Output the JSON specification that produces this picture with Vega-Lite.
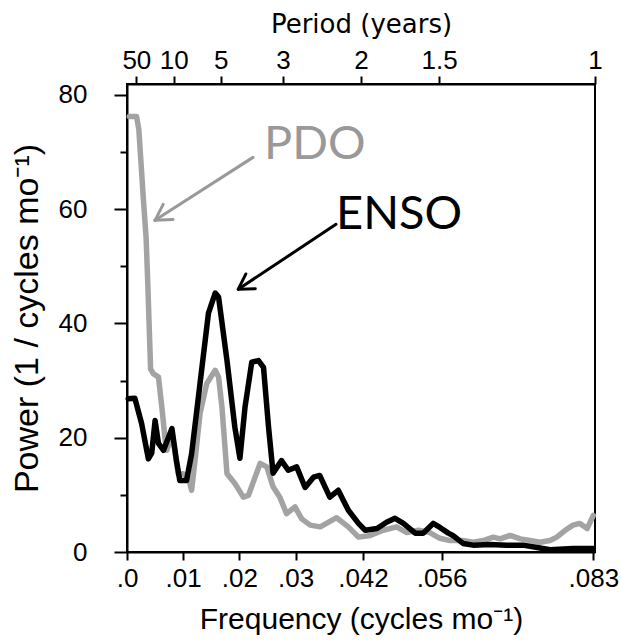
{
  "$schema": "https://vega.github.io/schema/vega-lite/v6.json",
  "width": 468,
  "height": 468,
  "autosize": {"type": "none"},
  "padding": {"left": 127, "top": 84, "right": 26, "bottom": 91},
  "background": "white",
  "config": {
    "view": {"stroke": "#000", "strokeWidth": 2},
    "axis": {
      "domainColor": "#000", "domainWidth": 2, "tickColor": "#000", "tickWidth": 2,
      "labelFont": "Liberation Sans", "labelColor": "#000", "titleFont": "Liberation Sans",
      "titleColor": "#000", "titleFontWeight": "normal", "grid": false,
      "labelFlush": false, "labelOverlap": false
    }
  },
  "datasets": {
    "spectra": [
      {"series": "PDO", "f": 0.0004, "p": 76.2}, {"series": "PDO", "f": 0.0017, "p": 76.2},
      {"series": "PDO", "f": 0.0021, "p": 74}, {"series": "PDO", "f": 0.0025, "p": 68},
      {"series": "PDO", "f": 0.0029, "p": 62}, {"series": "PDO", "f": 0.0034, "p": 55},
      {"series": "PDO", "f": 0.0037, "p": 47}, {"series": "PDO", "f": 0.0040, "p": 38},
      {"series": "PDO", "f": 0.0042, "p": 32}, {"series": "PDO", "f": 0.0047, "p": 31.2},
      {"series": "PDO", "f": 0.0056, "p": 30.6}, {"series": "PDO", "f": 0.0062, "p": 25.4},
      {"series": "PDO", "f": 0.0068, "p": 19.5}, {"series": "PDO", "f": 0.0071, "p": 17.8},
      {"series": "PDO", "f": 0.0080, "p": 20.7}, {"series": "PDO", "f": 0.0085, "p": 17.8},
      {"series": "PDO", "f": 0.0091, "p": 13.7}, {"series": "PDO", "f": 0.0100, "p": 13.7},
      {"series": "PDO", "f": 0.0109, "p": 13.1}, {"series": "PDO", "f": 0.0115, "p": 10.8},
      {"series": "PDO", "f": 0.0121, "p": 16.0}, {"series": "PDO", "f": 0.0130, "p": 24.2},
      {"series": "PDO", "f": 0.0142, "p": 29.5}, {"series": "PDO", "f": 0.0157, "p": 31.8},
      {"series": "PDO", "f": 0.0163, "p": 30.6}, {"series": "PDO", "f": 0.0169, "p": 25.4},
      {"series": "PDO", "f": 0.0178, "p": 13.7}, {"series": "PDO", "f": 0.0192, "p": 12.0},
      {"series": "PDO", "f": 0.0207, "p": 9.6}, {"series": "PDO", "f": 0.0216, "p": 9.9},
      {"series": "PDO", "f": 0.0228, "p": 13.1}, {"series": "PDO", "f": 0.0237, "p": 15.5},
      {"series": "PDO", "f": 0.0249, "p": 14.9}, {"series": "PDO", "f": 0.0260, "p": 11.4},
      {"series": "PDO", "f": 0.0272, "p": 9.6}, {"series": "PDO", "f": 0.0284, "p": 6.7},
      {"series": "PDO", "f": 0.0299, "p": 7.9}, {"series": "PDO", "f": 0.0311, "p": 5.8},
      {"series": "PDO", "f": 0.0326, "p": 4.7}, {"series": "PDO", "f": 0.0344, "p": 4.4},
      {"series": "PDO", "f": 0.0373, "p": 6.0}, {"series": "PDO", "f": 0.0394, "p": 4.4},
      {"series": "PDO", "f": 0.0412, "p": 2.6}, {"series": "PDO", "f": 0.0433, "p": 2.9},
      {"series": "PDO", "f": 0.0456, "p": 3.8}, {"series": "PDO", "f": 0.0480, "p": 4.4},
      {"series": "PDO", "f": 0.0498, "p": 3.4}, {"series": "PDO", "f": 0.0519, "p": 3.8},
      {"series": "PDO", "f": 0.0539, "p": 3.4}, {"series": "PDO", "f": 0.0557, "p": 2.4},
      {"series": "PDO", "f": 0.0575, "p": 2.0}, {"series": "PDO", "f": 0.0598, "p": 2.0},
      {"series": "PDO", "f": 0.0616, "p": 1.7}, {"series": "PDO", "f": 0.0634, "p": 2.0},
      {"series": "PDO", "f": 0.0652, "p": 2.6}, {"series": "PDO", "f": 0.0664, "p": 2.3},
      {"series": "PDO", "f": 0.0682, "p": 2.9}, {"series": "PDO", "f": 0.0700, "p": 2.3},
      {"series": "PDO", "f": 0.0717, "p": 2.0}, {"series": "PDO", "f": 0.0735, "p": 1.7},
      {"series": "PDO", "f": 0.0753, "p": 2.0}, {"series": "PDO", "f": 0.0765, "p": 2.6},
      {"series": "PDO", "f": 0.0780, "p": 3.8}, {"series": "PDO", "f": 0.0794, "p": 4.7},
      {"series": "PDO", "f": 0.0806, "p": 5.0}, {"series": "PDO", "f": 0.0819, "p": 4.1},
      {"series": "PDO", "f": 0.0830, "p": 6.4},
      {"series": "ENSO", "f": 0.0002, "p": 26.8}, {"series": "ENSO", "f": 0.0014, "p": 26.9},
      {"series": "ENSO", "f": 0.0026, "p": 22.5}, {"series": "ENSO", "f": 0.0038, "p": 16.3},
      {"series": "ENSO", "f": 0.0044, "p": 17.3}, {"series": "ENSO", "f": 0.0050, "p": 23.0},
      {"series": "ENSO", "f": 0.0056, "p": 19.0}, {"series": "ENSO", "f": 0.0065, "p": 17.8},
      {"series": "ENSO", "f": 0.0080, "p": 21.6}, {"series": "ENSO", "f": 0.0088, "p": 16.0},
      {"series": "ENSO", "f": 0.0094, "p": 12.5}, {"series": "ENSO", "f": 0.0106, "p": 12.5},
      {"series": "ENSO", "f": 0.0115, "p": 17.2}, {"series": "ENSO", "f": 0.0130, "p": 29.5},
      {"series": "ENSO", "f": 0.0145, "p": 41.8}, {"series": "ENSO", "f": 0.0157, "p": 45.3},
      {"series": "ENSO", "f": 0.0163, "p": 44.6}, {"series": "ENSO", "f": 0.0178, "p": 33.5},
      {"series": "ENSO", "f": 0.0192, "p": 21.8}, {"series": "ENSO", "f": 0.0201, "p": 16.4},
      {"series": "ENSO", "f": 0.0210, "p": 25.3}, {"series": "ENSO", "f": 0.0222, "p": 33.2},
      {"series": "ENSO", "f": 0.0234, "p": 33.5}, {"series": "ENSO", "f": 0.0243, "p": 32.3},
      {"series": "ENSO", "f": 0.0252, "p": 21.8}, {"series": "ENSO", "f": 0.0260, "p": 13.8},
      {"series": "ENSO", "f": 0.0275, "p": 16.0}, {"series": "ENSO", "f": 0.0287, "p": 14.3},
      {"series": "ENSO", "f": 0.0302, "p": 14.9}, {"series": "ENSO", "f": 0.0317, "p": 11.3},
      {"series": "ENSO", "f": 0.0332, "p": 13.1}, {"series": "ENSO", "f": 0.0343, "p": 13.4},
      {"series": "ENSO", "f": 0.0361, "p": 9.6}, {"series": "ENSO", "f": 0.0376, "p": 10.8},
      {"series": "ENSO", "f": 0.0394, "p": 7.3}, {"series": "ENSO", "f": 0.0412, "p": 5.0},
      {"series": "ENSO", "f": 0.0424, "p": 3.8}, {"series": "ENSO", "f": 0.0445, "p": 4.1},
      {"series": "ENSO", "f": 0.0462, "p": 5.2}, {"series": "ENSO", "f": 0.0477, "p": 5.9},
      {"series": "ENSO", "f": 0.0492, "p": 5.0}, {"series": "ENSO", "f": 0.0513, "p": 3.3},
      {"series": "ENSO", "f": 0.0527, "p": 3.3}, {"series": "ENSO", "f": 0.0545, "p": 5.0},
      {"series": "ENSO", "f": 0.0557, "p": 4.3}, {"series": "ENSO", "f": 0.0572, "p": 3.3},
      {"series": "ENSO", "f": 0.0580, "p": 2.9}, {"series": "ENSO", "f": 0.0598, "p": 1.5},
      {"series": "ENSO", "f": 0.0616, "p": 1.2}, {"series": "ENSO", "f": 0.0646, "p": 1.3},
      {"series": "ENSO", "f": 0.0676, "p": 1.2}, {"series": "ENSO", "f": 0.0705, "p": 1.2},
      {"series": "ENSO", "f": 0.0730, "p": 0.8}, {"series": "ENSO", "f": 0.0753, "p": 0.4},
      {"series": "ENSO", "f": 0.0794, "p": 0.6}, {"series": "ENSO", "f": 0.0830, "p": 0.6}
    ],
    "arrows": [
      {"series": "PDO", "f": 0.02243, "p": 69.06, "f2": 0.00498, "p2": 58.04},
      {"series": "PDO", "f": 0.00498, "p": 58.04, "f2": 0.00819, "p2": 58.2},
      {"series": "PDO", "f": 0.00498, "p": 58.04, "f2": 0.00644, "p2": 60.84},
      {"series": "ENSO", "f": 0.0372, "p": 57.34, "f2": 0.01981, "p2": 46.0},
      {"series": "ENSO", "f": 0.01981, "p": 46.0, "f2": 0.02284, "p2": 46.07},
      {"series": "ENSO", "f": 0.01981, "p": 46.0, "f2": 0.02116, "p2": 48.66}
    ],
    "labels": [
      {"series": "PDO", "f": 0.02439, "p": 68.7, "text": "PDO"},
      {"series": "ENSO", "f": 0.0372, "p": 56.5, "text": "ENSO"}
    ]
  },
  "layer": [
    {
      "data": {"name": "spectra"},
      "transform": [{"filter": "datum.series === 'PDO'"}],
      "mark": {"type": "line", "strokeWidth": 5.5, "strokeJoin": "round", "strokeCap": "round", "color": "#a3a3a3"},
      "encoding": {
        "x": {
          "field": "f", "type": "quantitative",
          "scale": {"domain": [0, 0.0833], "nice": false, "zero": false},
          "axis": {
            "orient": "top", "title": "Period (years)", "titleFont": "DejaVu Sans", "titleFontSize": 26,
            "titlePadding": 10,
            "values": [0.0016667, 0.0083333, 0.0166667, 0.0277778, 0.0416667, 0.0555556, 0.0833],
            "labelExpr": "format(1/(12*datum.value), '.2~r')",
            "labelFontSize": 26, "tickSize": 8, "labelPadding": 3
          }
        },
        "y": {
          "field": "p", "type": "quantitative",
          "scale": {"domain": [0, 81.9], "nice": false, "zero": false},
          "axis": {
            "orient": "left", "title": "Power (1 / cycles mo⁻¹)", "titleFontSize": 34, "titlePadding": 14,
            "values": [0, 5, 10, 15, 20, 25, 30, 35, 40, 45, 50, 55, 60, 65, 70, 75, 80],
            "labelExpr": "datum.value % 20 === 0 ? datum.label : ''",
            "labelFontSize": 26, "labelPadding": 27,
            "tickSize": {"condition": {"test": "datum.value % 20 === 0", "value": 13}, "value": 7}
          }
        }
      }
    },
    {
      "data": {"name": "spectra"},
      "transform": [{"filter": "datum.series === 'ENSO'"}],
      "mark": {"type": "line", "strokeWidth": 5.5, "strokeJoin": "round", "strokeCap": "round", "color": "#000000"},
      "encoding": {
        "x": {
          "field": "f", "type": "quantitative",
          "axis": {
            "orient": "bottom", "title": "Frequency (cycles mo⁻¹)", "titleFontSize": 30, "titlePadding": 13,
            "values": [0, 0.01, 0.02, 0.03, 0.042, 0.056, 0.083],
            "labelExpr": "datum.value === 0 ? '.0' : replace(format(datum.value, '.3~f'), '0.', '.')",
            "labelFontSize": 26, "tickSize": 8, "labelPadding": 5
          }
        },
        "y": {"field": "p", "type": "quantitative"}
      }
    },
    {
      "data": {"name": "arrows"},
      "mark": {"type": "rule", "strokeWidth": 3, "strokeCap": "round"},
      "encoding": {
        "x": {"field": "f", "type": "quantitative", "axis": null},
        "y": {"field": "p", "type": "quantitative"},
        "x2": {"field": "f2"},
        "y2": {"field": "p2"},
        "color": {"field": "series", "type": "nominal", "scale": {"domain": ["PDO", "ENSO"], "range": ["#999999", "#000000"]}, "legend": null}
      }
    },
    {
      "data": {"name": "labels"},
      "mark": {"type": "text", "font": "Lato", "fontSize": 47, "align": "left", "baseline": "alphabetic"},
      "encoding": {
        "x": {"field": "f", "type": "quantitative", "axis": null},
        "y": {"field": "p", "type": "quantitative"},
        "text": {"field": "text"},
        "color": {"field": "series", "type": "nominal", "scale": {"domain": ["PDO", "ENSO"], "range": ["#8a8a8a", "#000000"]}, "legend": null}
      }
    }
  ]
}
